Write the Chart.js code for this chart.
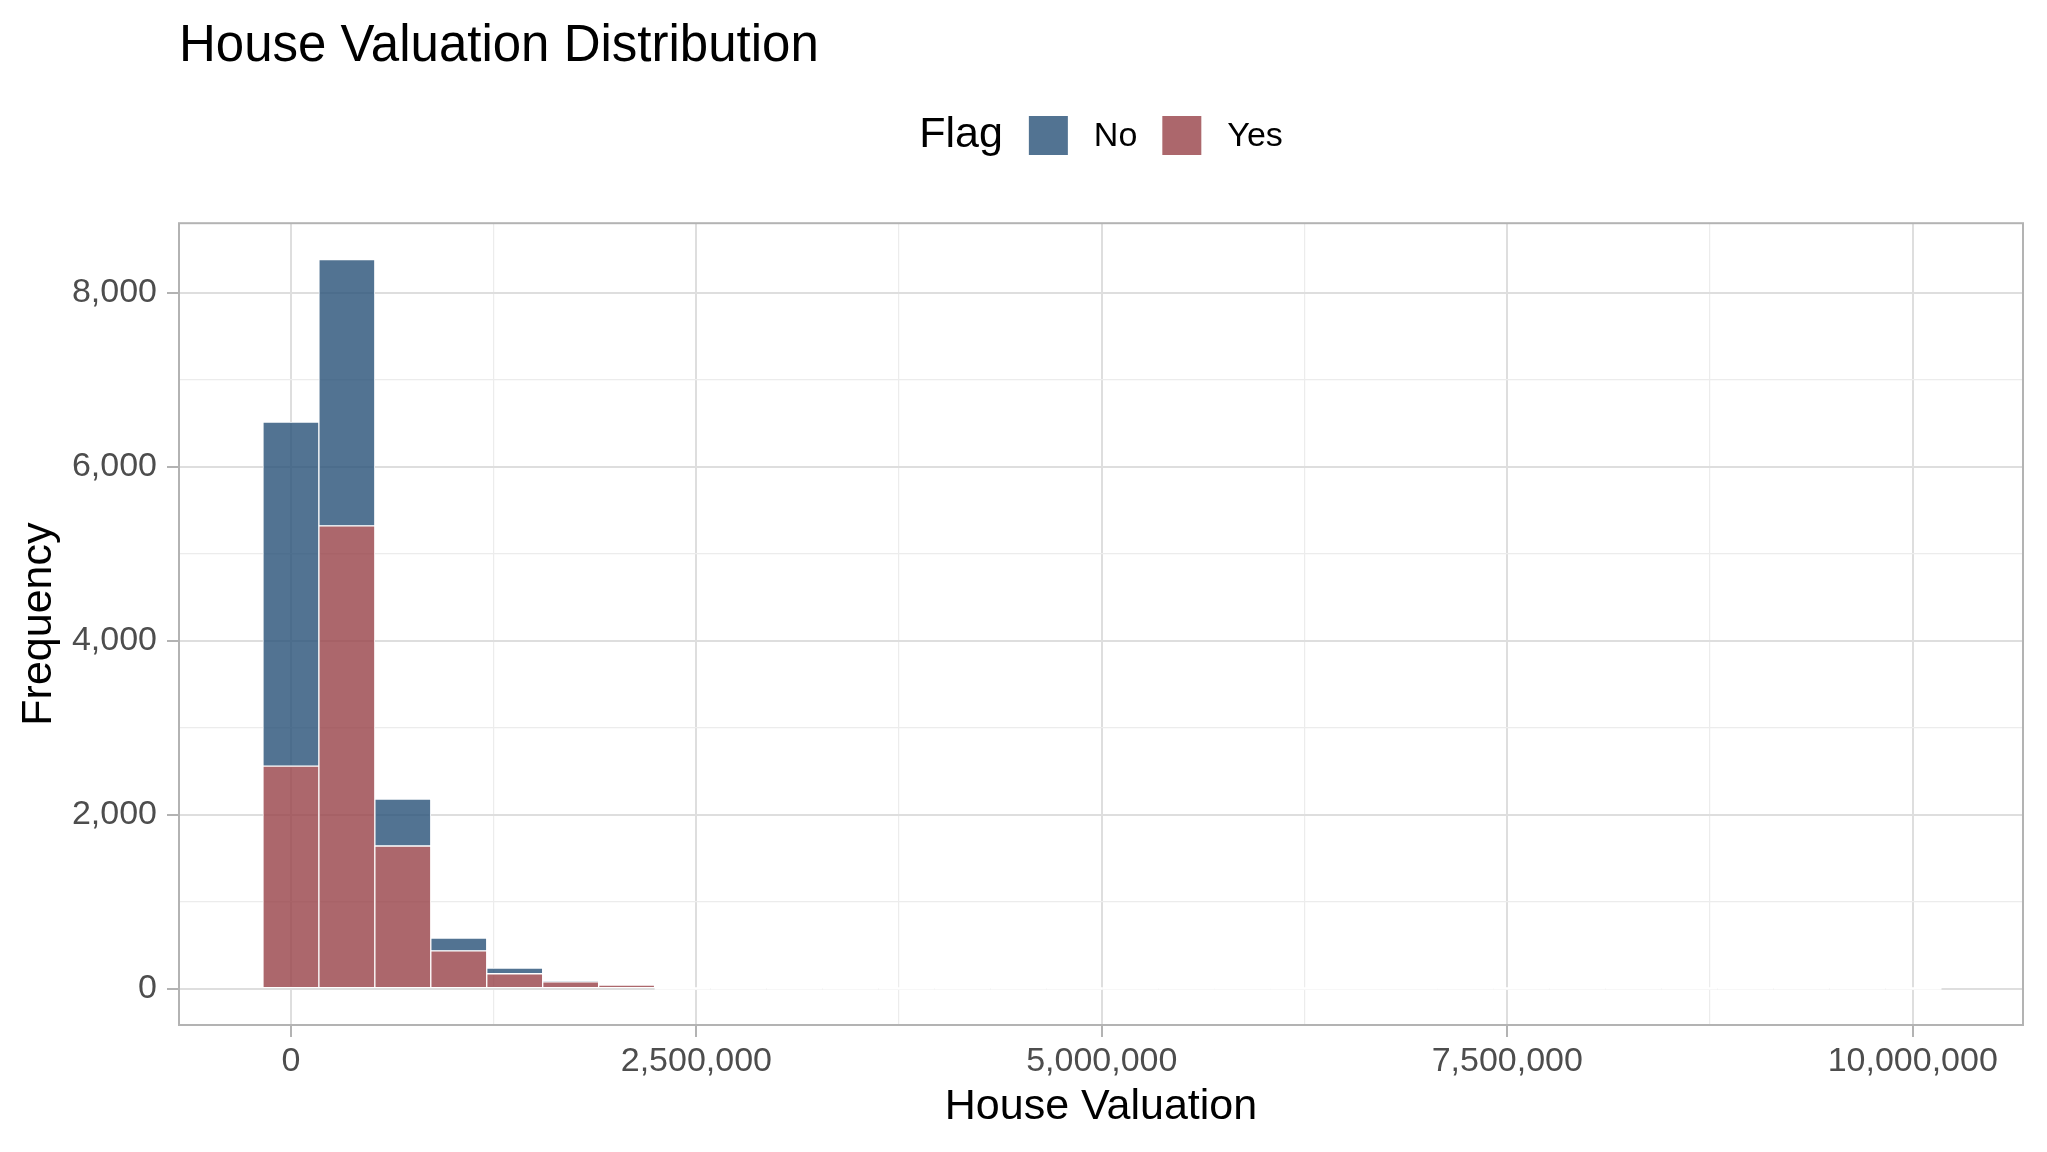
<!DOCTYPE html>
<html>
<head>
<meta charset="utf-8">
<script src="https://cdn.jsdelivr.net/npm/chart.js@4.4.1/dist/chart.umd.min.js"></script>
<style>
  html, body { margin: 0; padding: 0; background: #ffffff; }
  #wrap { width: 2047px; height: 1152px; }
</style>
</head>
<body>
<div id="wrap"><canvas id="histChart" width="2047" height="1152"></canvas></div>
<script>
// bin centres of the histogram (house valuation)
const binCenters = [
  0, 345000, 690000, 1035000, 1380000, 1725000, 2070000, 2415000, 2760000, 3105000,
  3450000, 3795000, 4140000, 4485000, 4830000, 5175000, 5520000, 5865000, 6210000, 6555000,
  6900000, 7245000, 7590000, 7935000, 8280000, 8625000, 8970000, 9315000, 9660000, 10005000
];
// counts per bin, Flag = Yes (bottom of stack)
const yesCounts = [
  2557, 5319, 1639, 433, 170, 76, 41, 0, 0, 0,
  0, 0, 0, 0, 0, 0, 0, 0, 0, 0,
  0, 0, 0, 0, 0, 0, 0, 0, 0, 0
];
// counts per bin, Flag = No (stacked on top)
const noCounts = [
  3956, 3061, 538, 146, 64, 2, 0, 0, 0, 0,
  0, 0, 0, 0, 0, 0, 0, 0, 0, 0,
  0, 0, 0, 0, 0, 0, 0, 0, 0, 0
];
// labelled (major) and unlabelled (minor) grid positions
const xMajorTicks = [0, 2500000, 5000000, 7500000, 10000000];
const xMinorTicks = [1250000, 3750000, 6250000, 8750000];
const yMajorTicks = [0, 2000, 4000, 6000, 8000];
const yMinorTicks = [1000, 3000, 5000, 7000];

const colNo = 'rgba(39, 80, 119, 0.8)';
const colYes = 'rgba(151, 65, 71, 0.8)';
const fontFamily = '"Liberation Sans", Arial, Helvetica, sans-serif';

Chart.defaults.font.family = fontFamily;

const isMajor = (list, v) => list.some(t => Math.abs(t - v) < 1e-6);
const tickList = (major, minor) => major.concat(minor).sort((a, b) => a - b).map(v => ({ value: v }));

// empty bins still get their white outline along the baseline, like ggplot
const emptyBinOutline = {
  id: 'emptyBinOutline',
  afterDatasetsDraw(chart) {
    const { ctx } = chart;
    const meta = chart.getDatasetMeta(0);
    const y0 = chart.scales.y.getPixelForValue(0);
    ctx.save();
    ctx.strokeStyle = '#ffffff';
    ctx.lineWidth = 2.5;
    meta.data.forEach((bar, i) => {
      if (yesCounts[i] + noCounts[i] !== 0) return;
      const p = bar.getProps(['x', 'width'], true);
      ctx.beginPath();
      ctx.moveTo(p.x - p.width / 2, y0);
      ctx.lineTo(p.x + p.width / 2, y0);
      ctx.stroke();
    });
    ctx.restore();
  }
};

const panelFrame = {
  id: 'panelFrame',
  afterDraw(chart) {
    const { ctx, chartArea: a } = chart;
    ctx.save();
    ctx.strokeStyle = '#b3b3b3';
    ctx.lineWidth = 2;
    ctx.strokeRect(a.left, a.top, a.right - a.left, a.bottom - a.top);
    ctx.restore();
  }
};

// ggplot style legend: "Flag" title with keys on one row
const flagLegend = {
  id: 'flagLegend',
  afterDraw(chart) {
    const { ctx, chartArea: a } = chart;
    const items = [
      { label: 'No', color: colNo },
      { label: 'Yes', color: colYes }
    ];
    const box = 39, gapKey = 26, gapItem = 25, gapTitle = 26;
    const cy = 135.5;
    ctx.save();
    ctx.textBaseline = 'middle';
    ctx.font = '43px ' + fontFamily;
    const wTitle = ctx.measureText('Flag').width;
    ctx.font = '34px ' + fontFamily;
    const widths = items.map(it => ctx.measureText(it.label).width);
    let total = wTitle + gapTitle;
    items.forEach((it, i) => { total += box + gapKey + widths[i] + (i < items.length - 1 ? gapItem : 0); });
    let x = (a.left + a.right) / 2 - total / 2;
    ctx.fillStyle = '#000000';
    ctx.font = '43px ' + fontFamily;
    ctx.fillText('Flag', x, cy);
    x += wTitle + gapTitle;
    ctx.font = '34px ' + fontFamily;
    items.forEach((it, i) => {
      ctx.fillStyle = it.color;
      ctx.fillRect(x, cy - box / 2, box, box);
      x += box + gapKey;
      ctx.fillStyle = '#000000';
      ctx.fillText(it.label, x, cy + 1);
      x += widths[i] + gapItem;
    });
    ctx.restore();
  }
};

const ctx = document.getElementById('histChart').getContext('2d');
new Chart(ctx, {
  type: 'bar',
  data: {
    datasets: [
      {
        label: 'Yes',
        data: binCenters.map((c, i) => ({ x: c, y: yesCounts[i] })),
        backgroundColor: colYes,
        borderColor: '#ffffff',
        borderWidth: 1,
        borderSkipped: false,
        barPercentage: 1,
        categoryPercentage: 1
      },
      {
        label: 'No',
        data: binCenters.map((c, i) => ({ x: c, y: noCounts[i] })),
        backgroundColor: colNo,
        borderColor: '#ffffff',
        borderWidth: 1,
        borderSkipped: false,
        barPercentage: 1,
        categoryPercentage: 1
      }
    ]
  },
  options: {
    responsive: false,
    animation: false,
    devicePixelRatio: 1,
    layout: { padding: { left: 0, right: 24, top: 0, bottom: 0 } },
    scales: {
      x: {
        type: 'linear',
        stacked: true,
        offset: false,
        min: -690000,
        max: 10680000,
        afterFit: (scale) => { scale.height = 127; },
        afterBuildTicks: (scale) => { scale.ticks = tickList(xMajorTicks, xMinorTicks); },
        border: { display: false },
        grid: {
          offset: false,
          color: (c) => isMajor(xMajorTicks, c.tick.value) ? '#dedede' : '#ececec',
          lineWidth: (c) => isMajor(xMajorTicks, c.tick.value) ? 2 : 1.2,
          tickColor: (c) => isMajor(xMajorTicks, c.tick.value) ? '#b3b3b3' : 'rgba(0,0,0,0)',
          tickWidth: 2,
          tickLength: 12
        },
        ticks: {
          autoSkip: false,
          maxRotation: 0,
          padding: 4,
          color: '#4d4d4d',
          font: { size: 34 },
          callback: (v) => isMajor(xMajorTicks, v) ? Number(v).toLocaleString('en-US') : ''
        },
        title: {
          display: true,
          text: 'House Valuation',
          color: '#000000',
          font: { size: 43 },
          padding: { top: 0, bottom: 19 }
        }
      },
      y: {
        stacked: true,
        min: -419,
        max: 8798,
        afterFit: (scale) => { scale.width = 179; },
        afterBuildTicks: (scale) => { scale.ticks = tickList(yMajorTicks, yMinorTicks); },
        border: { display: false },
        grid: {
          color: (c) => isMajor(yMajorTicks, c.tick.value) ? '#dedede' : '#ececec',
          lineWidth: (c) => isMajor(yMajorTicks, c.tick.value) ? 2 : 1.2,
          tickColor: (c) => isMajor(yMajorTicks, c.tick.value) ? '#b3b3b3' : 'rgba(0,0,0,0)',
          tickWidth: 2,
          tickLength: 12
        },
        ticks: {
          autoSkip: false,
          padding: 10,
          color: '#4d4d4d',
          font: { size: 34 },
          callback: (v) => isMajor(yMajorTicks, v) ? Number(v).toLocaleString('en-US') : ''
        },
        title: {
          display: true,
          text: 'Frequency',
          color: '#000000',
          font: { size: 43 },
          padding: { top: 13, bottom: 0 }
        }
      }
    },
    plugins: {
      legend: { display: false },
      tooltip: { enabled: false },
      title: {
        display: true,
        text: 'House Valuation Distribution',
        align: 'start',
        fullSize: false,
        color: '#000000',
        font: { size: 51, weight: 'normal' },
        padding: { top: 16, bottom: 146 }
      }
    }
  },
  plugins: [emptyBinOutline, panelFrame, flagLegend]
});
</script>
</body>
</html>
